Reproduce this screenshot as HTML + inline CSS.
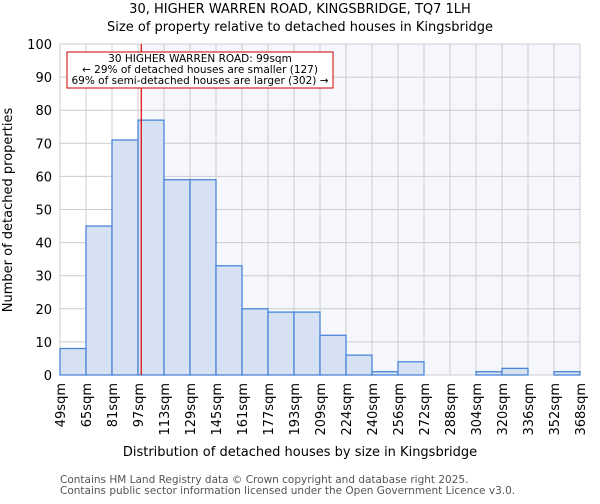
<!DOCTYPE html>
<html><head><meta charset="utf-8"><style>
body{margin:0;background:#fff;font-family:"DejaVu Sans","Liberation Sans",sans-serif;}
</style></head><body>
<svg id="chart" width="600" height="500" xmlns="http://www.w3.org/2000/svg" font-family="DejaVu Sans, Liberation Sans, sans-serif">
<text x="300" y="13" text-anchor="middle" font-size="13">30, HIGHER WARREN ROAD, KINGSBRIDGE, TQ7 1LH</text>
<text x="300" y="31" text-anchor="middle" font-size="13">Size of property relative to detached houses in Kingsbridge</text>
<g id="plot"></g>
<text x="300" y="456" text-anchor="middle" font-size="13">Distribution of detached houses by size in Kingsbridge</text>
<text transform="translate(12,210) rotate(-90)" text-anchor="middle" font-size="13">Number of detached properties</text>
<text x="60" y="483" font-size="10.5" fill="#555">Contains HM Land Registry data © Crown copyright and database right 2025.</text>
<text x="60" y="494" font-size="10.5" fill="#555">Contains public sector information licensed under the Open Government Licence v3.0.</text>
</svg>
<script>
const categories=["49sqm","65sqm","81sqm","97sqm","113sqm","129sqm","145sqm","161sqm","177sqm","193sqm","209sqm","224sqm","240sqm","256sqm","272sqm","288sqm","304sqm","320sqm","336sqm","352sqm","368sqm"];
const counts=[8,45,71,77,59,59,33,20,19,19,12,6,1,4,0,0,1,2,0,1];
const yTicks=[0,10,20,30,40,50,60,70,80,90,100];
const propertyIndex=3.125;
const NS="http://www.w3.org/2000/svg";
const L=60,R=580,T=44,B=375;
const bw=(R-L)/counts.length;
const x=i=>L+i*bw;
const y=v=>B-(v/100)*(B-T);
const g=document.getElementById('plot');
function mk(t,a){const e=document.createElementNS(NS,t);for(const k in a)e.setAttribute(k,a[k]);g.appendChild(e);return e;}
const px=x(propertyIndex);
let e=mk('rect',{x:L,y:T,width:R-L,height:B-T,fill:'#fff'});


e=mk('rect',{x:px,y:T,width:R-px,height:B-T,fill:'#f5f7fd'});


yTicks.forEach(v=>{
 const l=mk('line',{x1:L,x2:R,y1:y(v),y2:y(v),stroke:'#ccc'});
 
 
 const t=mk('text',{x:L-8,y:y(v)+5,'text-anchor':'end','font-size':'13'});
 t.textContent=v;
 
 
});
categories.forEach((c,i)=>{
 const l=mk('line',{x1:x(i),x2:x(i),y1:T,y2:B,stroke:'#ccc'});
 
 
 const t=mk('text',{transform:`translate(${x(i)+5},${B+8}) rotate(-90)`,'text-anchor':'end','font-size':'13'});
 t.textContent=c;
 
 
});
counts.forEach((v,i)=>{
 if(v<=0)return;
 const r=mk('rect',{x:x(i),y:y(v),width:bw,height:B-y(v),fill:'#d6e1f3',stroke:'#4a86d8','stroke-width':1.3});
 
 
});
e=mk('line',{x1:px,x2:px,y1:T,y2:B,stroke:'#e00000','stroke-width':1.2});


e=mk('rect',{x:67,y:52,width:266,height:36,fill:'#fff',stroke:'#cc0000'});


["30 HIGHER WARREN ROAD: 99sqm","← 29% of detached houses are smaller (127)","69% of semi-detached houses are larger (302) →"].forEach((s,i)=>{
 const t=mk('text',{x:200,y:62+i*11,'text-anchor':'middle','font-size':'10.5'});
 t.textContent=s;
 
 
});
</script>
</body></html>
